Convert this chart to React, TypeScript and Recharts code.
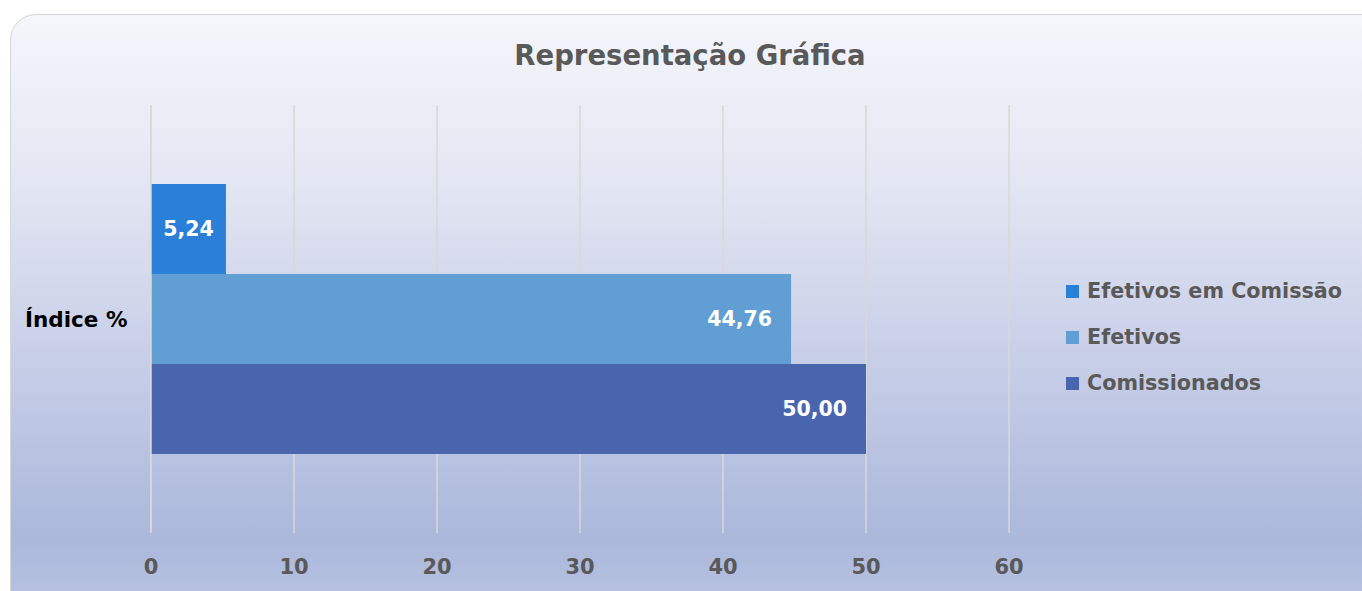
import React from "react";
import {
  BarChart,
  Bar,
  XAxis,
  YAxis,
  CartesianGrid,
  Legend,
  LabelList,
} from "recharts";

const categories = ["Índice %"];
const efetivosComissao = [5.24];
const efetivos = [44.76];
const comissionados = [50.0];
const xTicks = [0, 10, 20, 30, 40, 50, 60];

const series = [
  { key: "efetivosComissao", name: "Efetivos em Comissão", color: "#2a7fd9" },
  { key: "efetivos", name: "Efetivos", color: "#619ed3" },
  { key: "comissionados", name: "Comissionados", color: "#4865ae" },
];

const data = categories.map((name, i) => ({
  name,
  efetivosComissao: efetivosComissao[i],
  efetivos: efetivos[i],
  comissionados: comissionados[i],
}));

const heavy = "'DejaVu Sans', 'Liberation Sans', Arial, sans-serif";

const fmt = (v: number) => v.toFixed(2).replace(".", ",");

const renderLabel = (props: any) => {
  const { x, y, width, height, value } = props;
  const narrow = width < 90;
  return (
    <text
      x={narrow ? x + width / 2 : x + width - 19}
      y={y + height / 2}
      dy="0.35em"
      textAnchor={narrow ? "middle" : "end"}
      fill="#ffffff"
      fontFamily={heavy}
      fontWeight="bold"
      fontSize={20.5}
    >
      {fmt(value)}
    </text>
  );
};

const renderLegend = () => (
  <div>
    {series.map((s) => (
      <div
        key={s.key}
        style={{
          display: "flex",
          alignItems: "center",
          height: 46,
          fontFamily: heavy,
          fontWeight: "bold",
          fontSize: 20.7,
          color: "#595959",
          whiteSpace: "nowrap",
        }}
      >
        <span
          style={{
            display: "inline-block",
            width: 13,
            height: 13,
            background: s.color,
            marginRight: 8,
          }}
        />
        {s.name}
      </div>
    ))}
  </div>
);

const renderCategoryTick = (props: any) => {
  const { y, payload } = props;
  return (
    <text
      x={25}
      y={y}
      dy="0.35em"
      textAnchor="start"
      fill="#000000"
      fontFamily={heavy}
      fontWeight="bold"
      fontSize={21.5}
    >
      {payload.value}
    </text>
  );
};

export default function App() {
  return (
    <div
      style={{
        position: "absolute",
        left: 0,
        top: 0,
        width: 1362,
        height: 591,
        overflow: "hidden",
        background: "#ffffff",
      }}
    >
      <div
        style={{
          position: "absolute",
          left: 10,
          top: 14,
          width: 1400,
          height: 640,
          borderRadius: 26,
          border: "1.5px solid #d6d6d6",
          background:
            "linear-gradient(to bottom, #f5f6fb 0%, #e4e7f3 25%, #c6cde7 55%, #abb8db 82%, #c3cce8 100%)",
        }}
      />
      <div
        style={{
          position: "absolute",
          left: 0,
          width: 1380,
          top: 39,
          textAlign: "center",
          fontFamily: heavy,
          fontWeight: "bold",
          fontSize: 27.5,
          color: "#595959",
        }}
      >
        Representação Gráfica
      </div>
      <div style={{ position: "absolute", left: 0, top: 0 }}>
        <BarChart
          width={1362}
          height={591}
          data={data}
          layout="vertical"
          margin={{ top: 105, right: 53, bottom: 0, left: 10 }}
          barSize={90}
          barGap={0}
        >
          <CartesianGrid
            horizontal={false}
            vertical={true}
            stroke="#d9d9d9"
            strokeWidth={1.5}
          />
          <XAxis
            type="number"
            domain={[0, 60]}
            ticks={xTicks}
            axisLine={false}
            tickLine={false}
            tickSize={0}
            tickMargin={26}
            height={58}
            interval={0}
            tick={{
              fill: "#595959",
              fontFamily: heavy,
              fontWeight: "bold",
              fontSize: 21,
            }}
          />
          <YAxis
            yAxisId="cat"
            type="category"
            dataKey="name"
            width={141}
            axisLine={{ stroke: "#d9d9d9", strokeWidth: 1.5 }}
            tickLine={false}
            tick={renderCategoryTick}
          />
          <YAxis
            yAxisId="frame"
            type="number"
            domain={[0, 1]}
            ticks={[0, 1]}
            width={0}
            tick={false}
            tickSize={5}
            axisLine={false}
            tickLine={{ stroke: "#d9d9d9", strokeWidth: 1.5 }}
          />
          <Legend
            layout="vertical"
            align="right"
            verticalAlign="middle"
            content={renderLegend}
            wrapperStyle={{ position: "absolute", left: 1066, top: 268, width: 300 }}
          />
          {series.map((s) => (
            <Bar
              key={s.key}
              yAxisId="cat"
              dataKey={s.key}
              name={s.name}
              fill={s.color}
              isAnimationActive={false}
            >
              <LabelList dataKey={s.key} content={renderLabel} />
            </Bar>
          ))}
        </BarChart>
      </div>
    </div>
  );
}
